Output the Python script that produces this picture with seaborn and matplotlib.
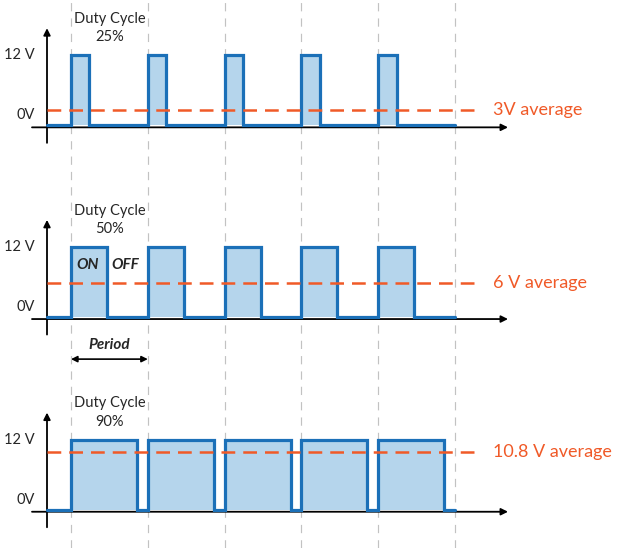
import matplotlib
matplotlib.use("Agg")
import matplotlib.pyplot as plt
import numpy as np
import pandas as pd
import seaborn as sns

# one pulse train per panel
duty_labels = ["25%", "50%", "90%"]
on_fraction = [0.24, 0.47, 0.86]      # drawn pulse width, in periods
high_volts = 12
n_periods = 5
avg_volts = [2.6, 5.8, 9.9]           # where the dashed average lines sit
avg_labels = ["3V average", "6 V average", "10.8 V average"]
level_labels = ["12 V", "0V"]

# colours
LINE = "#1B70B8"
FILL = "#B5D5EC"
ORANGE = "#F05A28"
GREY = "#C2C2C2"

# page geometry (pixels)
W, H = 618, 548
PX_PER_PERIOD = 76.8
X0_PX = 71
PX_PER_VOLT = 5.85
# top, bottom, row of 0 V for each panel band
bands = [(0, 182, 125.3), (182, 374, 317.0), (374, 548, 509.7)]


def px_to_t(px):
    return (px - X0_PX) / PX_PER_PERIOD


sns.set_style("white")
plt.rcParams['font.family'] = ['Lato', 'DejaVu Sans']

fig = plt.figure(figsize=(W / 100, H / 100), dpi=100)
xlim = (px_to_t(0), px_to_t(W))

# background: period markers running through all panels
bg = fig.add_axes([0, 0, 1, 1])
bg.set_xlim(xlim)
bg.set_ylim(0, 1)
bg.axis('off')
for k in range(n_periods + 1):
    bg.axvline(k, color=GREY, lw=0.85, dashes=(7, 6), zorder=0)

t_yaxis = px_to_t(47)

for i, (top, bot, zero) in enumerate(bands):
    ax = fig.add_axes([0, 1 - bot / H, 1, (bot - top) / H])
    ax.set_xlim(xlim)
    ax.set_ylim(-(bot - zero) / PX_PER_VOLT, (zero - top) / PX_PER_VOLT)
    ax.axis('off')
    ax.patch.set_alpha(0)

    # build the step signal
    t = [t_yaxis]
    v = [0]
    for k in range(n_periods):
        t += [k, k + on_fraction[i]]
        v += [high_volts, 0]
    t.append(n_periods)
    v.append(0)
    df = pd.DataFrame({"t": t, "v": v})

    # axes with arrows
    ax.annotate('', xy=(px_to_t(508), -0.35), xytext=(px_to_t(32), -0.35),
                arrowprops=dict(arrowstyle='-|>', color='black', lw=1.3,
                                mutation_scale=10, shrinkA=0, shrinkB=0), zorder=1)
    ax.annotate('', xy=(t_yaxis, 16.6), xytext=(t_yaxis, -3.0),
                arrowprops=dict(arrowstyle='-|>', color='black', lw=1.3,
                                mutation_scale=10, shrinkA=0, shrinkB=0), zorder=1)

    ax.fill_between(df["t"], df["v"], step='post', color=FILL, lw=0, zorder=2)
    sns.lineplot(data=df, x="t", y="v", ax=ax, estimator=None, sort=False,
                 drawstyle='steps-post', color=LINE, lw=2.3, zorder=3,
                 solid_joinstyle='miter')
    ax.set_xlim(xlim)
    ax.axis('off')

    # average line + label
    ax.plot([t_yaxis, px_to_t(480)], [avg_volts[i]] * 2, color=ORANGE,
            lw=1.8, dashes=(5.5, 3.2), zorder=4)
    ax.text(px_to_t(493), avg_volts[i], avg_labels[i], color=ORANGE,
            fontsize=13, ha='left', va='center')

    # level labels
    ax.text(px_to_t(35), high_volts, level_labels[0], ha='right', va='center', fontsize=10.5)
    ax.text(px_to_t(35), 1.7, level_labels[1], ha='right', va='center', fontsize=10.5)

    # duty cycle caption
    ax.text(0.5, 16.6, "Duty Cycle\n" + duty_labels[i], ha='center', va='center',
            fontsize=10.5, linespacing=1.4)

    if i == 1:
        ax.text(0.22, 8.9, "ON", ha='center', va='center', fontsize=11,
                style='italic', weight='bold')
        ax.text(0.70, 8.9, "OFF", ha='center', va='center', fontsize=11,
                style='italic', weight='bold')
        ax.annotate('', xy=(1, -7.2), xytext=(0, -7.2),
                    arrowprops=dict(arrowstyle='<|-|>', color='black', lw=1.2,
                                    mutation_scale=9, shrinkA=0, shrinkB=0))
        ax.text(0.5, -4.8, "Period", ha='center', va='center', fontsize=11,
                style='italic', weight='bold')

fig.savefig("out.png", dpi=100)
